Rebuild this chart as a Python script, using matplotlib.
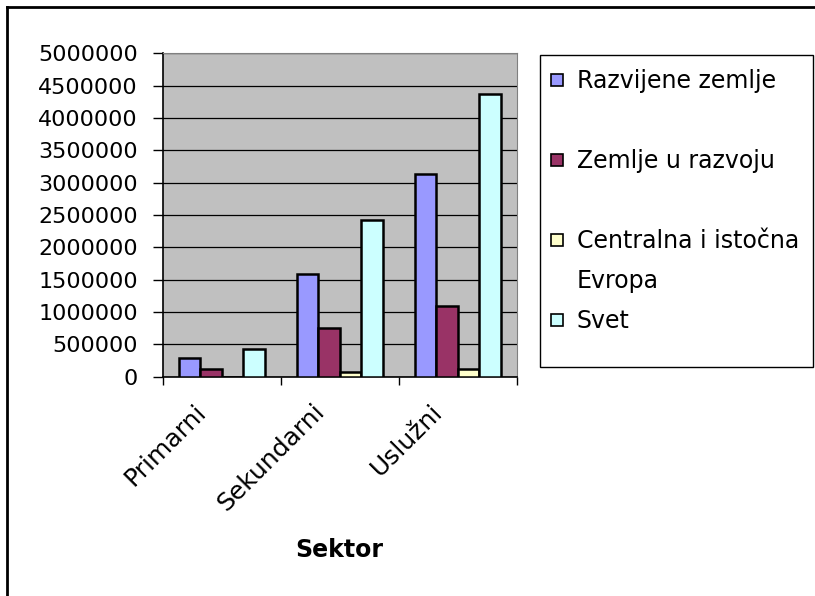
import matplotlib
matplotlib.use('Agg')
import matplotlib.pyplot as plt
import matplotlib.transforms as mtransforms
from matplotlib.patches import Rectangle
from matplotlib.lines import Line2D
import numpy as np

sektori = ['Primarni', 'Sekundarni', 'Uslužni']
serije = ['Razvijene zemlje', 'Zemlje u razvoju', 'Centralna i istočna\nEvropa', 'Svet']
razvijene = [285000, 1590000, 3130000]
u_razvoju = [115000, 760000, 1095000]
ci_evropa = [0, 78000, 115000]
svet = [425000, 2420000, 4365000]
boje = ['#9999FF', '#993366', '#FFFFCC', '#CCFFFF']

plt.rcParams['font.family'] = ['DejaVu Sans']
fs = 16

W, H = 815, 596
fig = plt.figure(figsize=(W / 100, H / 100), dpi=100)
ax = fig.add_axes([162.7 / W, 1 - 376.7 / H, 354 / W, 323.4 / H])
ax.set_facecolor('#C0C0C0')

x = np.arange(len(sektori))
w = 1 / 5.5
for i, vals in enumerate([razvijene, u_razvoju, ci_evropa, svet]):
    ax.bar(x + (i - 1.5) * w, vals, w, color=boje[i], edgecolor='black',
           linewidth=1.8, zorder=3)

ax.set_xlim(-0.5, 2.5)
ax.set_ylim(0, 5000000)
ax.set_yticks(np.arange(0, 5000001, 500000))
ax.ticklabel_format(style='plain', axis='y')
ax.grid(axis='y', color='black', linewidth=0.9, zorder=1)
ax.tick_params(axis='y', length=7, width=1, pad=11, labelsize=fs)

ax.set_xticks(x)
ax.set_xticklabels(sektori, rotation=45, ha='right', va='baseline',
                   rotation_mode='anchor', fontsize=18)
ax.tick_params(axis='x', which='major', length=0, pad=26)
pomak = mtransforms.ScaledTranslation(-14 / 100, 0, fig.dpi_scale_trans)
for lbl in ax.get_xticklabels():
    lbl.set_transform(lbl.get_transform() + pomak)
ax.set_xticks([-0.5, 0.5, 1.5, 2.5], minor=True)
ax.tick_params(axis='x', which='minor', length=6, width=1, direction='out')

ax.spines['left'].set_color('black')
ax.spines['bottom'].set_color('black')
ax.spines['left'].set_linewidth(1.2)
ax.spines['bottom'].set_linewidth(1.2)
ax.spines['top'].set_color('#808080')
ax.spines['right'].set_color('#808080')

fig.text(339.7 / W, 1 - 550 / H, 'Sektor', ha='center', va='center',
         fontsize=17, fontweight='bold')

# legenda (ručno, kao u Excelu)
fig.patches.append(Rectangle((540 / W, 1 - 367 / H), 273 / W, 312 / H,
                             transform=fig.transFigure, facecolor='white',
                             edgecolor='black', linewidth=1))
leg_y = [80, 160, 240, 320]
for naziv, boja, yc in zip(serije, boje, leg_y):
    fig.patches.append(Rectangle((551 / W, 1 - (yc + 6) / H), 12 / W, 12 / H,
                                 transform=fig.transFigure, facecolor=boja,
                                 edgecolor='black', linewidth=1.2))
    # baseline zadnjeg reda
    yb = yc + 8 + 40 * naziv.count('\n')
    fig.text(577 / W, 1 - yb / H, naziv, ha='left', va='baseline',
             fontsize=17, linespacing=1.84)

# okvir grafikona
fig.add_artist(Line2D([7 / W, 7 / W], [0, 1 - 7 / H], color='black', lw=2,
                      transform=fig.transFigure))
fig.add_artist(Line2D([7 / W, 1], [1 - 7 / H, 1 - 7 / H], color='black', lw=2,
                      transform=fig.transFigure))

fig.savefig('out.png', dpi=100)
